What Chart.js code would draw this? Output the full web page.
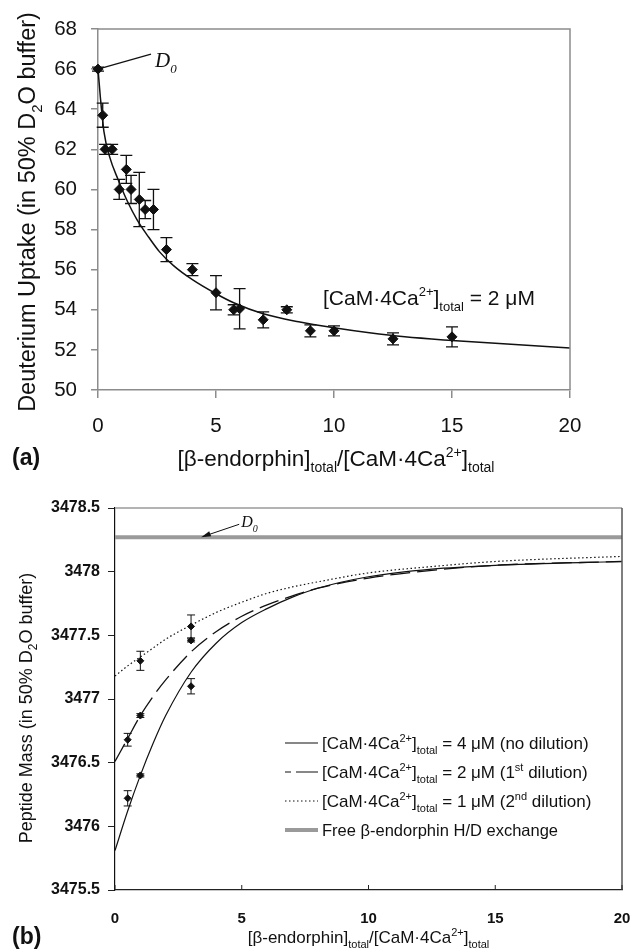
<!DOCTYPE html>
<html>
<head>
<meta charset="utf-8">
<script src="https://cdn.jsdelivr.net/npm/chart.js@4.4.0/dist/chart.umd.min.js"></script>
<style>
  html, body { margin: 0; padding: 0; background: #fff; }
  #wrap { position: relative; width: 631px; height: 950px; }
  canvas { position: absolute; left: 0; }
  #chartA { top: 0; }
  #chartB { top: 475px; }
</style>
</head>
<body>
<div id="wrap">
  <canvas id="chartA" width="631" height="475"></canvas>
  <canvas id="chartB" width="631" height="475"></canvas>
</div>
<script>
// ---- panel (a) data ----
var xA = [0, 0.2, 0.3, 0.6, 0.9, 1.2, 1.4, 1.75, 2, 2.35, 2.9, 4, 5, 5.75, 6, 7, 8, 9, 10, 12.5, 15];
var uptakeA = [66, 63.7, 62, 62, 60, 61, 60, 59.5, 59, 59, 57, 56, 54.85, 54, 54.05, 53.5, 54, 52.95, 52.95, 52.55, 52.65];
var errA = [0.1, 0.6, 0.25, 0.25, 0.5, 0.7, 0.7, 1.35, 0.45, 1.0, 0.6, 0.3, 0.85, 0.25, 1.0, 0.4, 0.15, 0.3, 0.25, 0.3, 0.5];
// fitted curve
var fitXA = [0, 0.1, 0.25, 0.5, 0.85, 1.25, 1.65, 2.1, 2.6, 3.2, 4, 5, 5.75, 7, 8.5, 10, 11.5, 13, 15, 17.5, 20];
var fitYA = [66, 64.6, 62.9, 61.6, 60.5, 59.4, 58.5, 57.7, 56.9, 56.2, 55.5, 54.8, 54.35, 53.8, 53.4, 53.1, 52.85, 52.65, 52.47, 52.28, 52.1];
var xTicksA = [0, 5, 10, 15, 20];
var yTicksA = [50, 52, 54, 56, 58, 60, 62, 64, 66, 68];

// ---- panel (b) data ----
var xB = [0.5, 1, 3];
var mass4 = [3476.22, 3476.40, 3477.10];
var err4 = [0.06, 0.012, 0.06];
var mass2 = [3476.68, 3476.87, 3477.46];
var err2 = [0.05, 0.015, 0.012];
var xB1 = [1, 3];
var mass1 = [3477.30, 3477.57];
var err1 = [0.075, 0.09];
var fitXB = [0, 0.5, 1, 1.5, 2, 3, 4, 5, 6, 7, 8, 10, 12.5, 15, 20];
var fit4 = [3475.81, 3476.12, 3476.40, 3476.65, 3476.87, 3477.21, 3477.44, 3477.60, 3477.71, 3477.80, 3477.87, 3477.96, 3478.02, 3478.05, 3478.08];
var fit2 = [3476.51, 3476.69, 3476.87, 3477.02, 3477.15, 3477.37, 3477.53, 3477.65, 3477.74, 3477.81, 3477.87, 3477.95, 3478.01, 3478.05, 3478.08];
var fit1 = [3477.18, 3477.26, 3477.33, 3477.40, 3477.47, 3477.58, 3477.68, 3477.76, 3477.83, 3477.88, 3477.92, 3477.99, 3478.04, 3478.08, 3478.12];
var freeX = [0, 20];
var freeMass = [3478.27, 3478.27];
var xTicksB = [0, 5, 10, 15, 20];
var yTicksB = [3475.5, 3476, 3476.5, 3477, 3477.5, 3478, 3478.5];

var SANS = "'Liberation Sans', Arial, sans-serif";
var SERIF = "'Liberation Serif', 'Times New Roman', serif";

function pts(xs, ys) {
  return xs.map(function (x, i) { return { x: x, y: ys[i] }; });
}

// draws text made of runs, some of them sub- or superscript
function richText(ctx, runs, x, y, size, opt) {
  opt = opt || {};
  var fam = opt.family || SANS;
  var small = Math.round(size * 0.64);
  function fontFor(r) {
    return (r.italic || opt.italic ? 'italic ' : '') + (opt.bold ? 'bold ' : '') +
      (r.sub || r.sup ? small : size) + 'px ' + fam;
  }
  var w = 0;
  runs.forEach(function (r) { ctx.font = fontFor(r); w += ctx.measureText(r.t).width; });
  ctx.save();
  ctx.translate(x, y);
  if (opt.rotate) ctx.rotate(opt.rotate);
  ctx.fillStyle = opt.color || '#111';
  ctx.textBaseline = 'alphabetic';
  ctx.textAlign = 'left';
  var cx = opt.align === 'center' ? -w / 2 : 0;
  runs.forEach(function (r) {
    ctx.font = fontFor(r);
    var dy = r.sub ? size * 0.28 : (r.sup ? -size * 0.42 : 0);
    ctx.fillText(r.t, cx, dy);
    cx += ctx.measureText(r.t).width;
  });
  ctx.restore();
}

var camRuns = [{ t: '[CaM\u00b74Ca' }, { t: '2+', sup: true }, { t: ']' }, { t: 'total', sub: true }];
var xTitleRuns = [{ t: '[\u03b2-endorphin]' }, { t: 'total', sub: true }, { t: '/' }].concat(camRuns);

// vertical error bars, from dataset.errors
var errorBars = {
  id: 'errorBars',
  afterDatasetsDraw: function (chart) {
    var ctx = chart.ctx, xs = chart.scales.x, ys = chart.scales.y;
    chart.data.datasets.forEach(function (ds) {
      if (!ds.errors) return;
      ctx.save();
      ctx.strokeStyle = '#111';
      ctx.lineWidth = ds.errWidth || 1.3;
      ds.data.forEach(function (p, i) {
        var e = ds.errors[i];
        var px = xs.getPixelForValue(p.x);
        var top = ys.getPixelForValue(p.y + e);
        var bot = ys.getPixelForValue(p.y - e);
        var h = ds.capHalf;
        ctx.beginPath();
        ctx.moveTo(px, top); ctx.lineTo(px, bot);
        ctx.moveTo(px - h, top); ctx.lineTo(px + h, top);
        ctx.moveTo(px - h, bot); ctx.lineTo(px + h, bot);
        ctx.stroke();
      });
      ctx.restore();
    });
  }
};

// ---------------- panel (a) ----------------
var decorA = {
  id: 'decorA',
  afterDraw: function (chart) {
    var ctx = chart.ctx, a = chart.chartArea, xs = chart.scales.x, ys = chart.scales.y;
    ctx.save();
    // top and right edges of the box
    ctx.strokeStyle = '#8c8c8c';
    ctx.lineWidth = 1.5;
    ctx.beginPath();
    ctx.moveTo(a.left, a.top); ctx.lineTo(a.right, a.top); ctx.lineTo(a.right, a.bottom);
    ctx.stroke();
    // D0 pointer
    var px = xs.getPixelForValue(xA[0]), py = ys.getPixelForValue(uptakeA[0]);
    ctx.strokeStyle = '#111';
    ctx.lineWidth = 1.3;
    ctx.beginPath();
    ctx.moveTo(px, py); ctx.lineTo(px + 53, py - 15);
    ctx.stroke();
    ctx.restore();
    richText(ctx, [{ t: 'D' }, { t: '0', sub: true }], px + 57, py - 2, 21, { family: SERIF, italic: true });
    // concentration note
    richText(ctx, camRuns.concat([{ t: ' = 2 \u03bcM' }]), 323, 305, 21);
    // axis titles
    richText(ctx, [{ t: 'Deuterium Uptake (in 50% D' }, { t: '2', sub: true }, { t: 'O buffer)' }],
      35, 212, 23.5, { rotate: -Math.PI / 2, align: 'center' });
    richText(ctx, xTitleRuns, 336, 466, 22.5, { align: 'center' });
    richText(ctx, [{ t: '(a)' }], 12, 465, 23, { bold: true });
  }
};

new Chart(document.getElementById('chartA'), {
  type: 'scatter',
  data: {
    datasets: [
      {
        data: pts(fitXA, fitYA), showLine: true, borderColor: '#111', borderWidth: 1.5,
        pointRadius: 0, cubicInterpolationMode: 'monotone', clip: false
      },
      {
        data: pts(xA, uptakeA), errors: errA, capHalf: 6, showLine: false,
        pointStyle: 'rectRot', pointRadius: 5, backgroundColor: '#111', borderColor: '#111',
        borderWidth: 1, clip: false
      }
    ]
  },
  options: {
    responsive: false,
    animation: false,
    layout: { padding: { left: 0, right: 61, top: 29, bottom: 25 } },
    plugins: { legend: { display: false }, tooltip: { enabled: false } },
    scales: {
      x: {
        type: 'linear', min: 0, max: 20,
        afterBuildTicks: function (s) { s.ticks = xTicksA.map(function (v) { return { value: v }; }); },
        afterFit: function (s) { s.height = 60; s.paddingLeft = 0; s.paddingRight = 0; },
        grid: { drawOnChartArea: false, tickLength: 8, color: '#8c8c8c', lineWidth: 1.5 },
        border: { color: '#8c8c8c', width: 1.5 },
        ticks: { font: { family: SANS, size: 20.5 }, color: '#111', padding: 16, maxRotation: 0 }
      },
      y: {
        type: 'linear', min: 50, max: 68,
        afterBuildTicks: function (s) { s.ticks = yTicksA.map(function (v) { return { value: v }; }); },
        afterFit: function (s) { s.width = 98; s.paddingTop = 0; s.paddingBottom = 0; },
        grid: { drawOnChartArea: false, tickLength: 7, color: '#8c8c8c', lineWidth: 1.5 },
        border: { color: '#8c8c8c', width: 1.5 },
        ticks: { font: { family: SANS, size: 20.5 }, color: '#111', padding: 14 }
      }
    }
  },
  plugins: [errorBars, decorA]
});

// ---------------- panel (b) ----------------
var decorB = {
  id: 'decorB',
  afterDraw: function (chart) {
    var ctx = chart.ctx, a = chart.chartArea, xs = chart.scales.x, ys = chart.scales.y;
    ctx.save();
    // box top (grey) and right edge
    ctx.lineWidth = 1.5;
    ctx.strokeStyle = '#9a9a9a';
    ctx.beginPath(); ctx.moveTo(a.left, a.top); ctx.lineTo(a.right, a.top); ctx.stroke();
    ctx.strokeStyle = '#555';
    ctx.beginPath(); ctx.moveTo(a.right, a.top); ctx.lineTo(a.right, a.bottom); ctx.stroke();
    // inward x ticks
    ctx.strokeStyle = '#222';
    ctx.lineWidth = 1;
    xTicksB.forEach(function (v) {
      var px = xs.getPixelForValue(v);
      ctx.beginPath(); ctx.moveTo(px, a.bottom); ctx.lineTo(px, a.bottom - 5); ctx.stroke();
    });
    // D0 arrow
    var ex = xs.getPixelForValue(3.4), ey = ys.getPixelForValue(freeMass[0]);
    ctx.strokeStyle = '#111';
    ctx.fillStyle = '#111';
    ctx.lineWidth = 1;
    ctx.beginPath(); ctx.moveTo(ex + 38, ey - 13); ctx.lineTo(ex + 4, ey - 1.5); ctx.stroke();
    ctx.beginPath();
    ctx.moveTo(ex, ey); ctx.lineTo(ex + 8, ey - 6); ctx.lineTo(ex + 10, ey - 1); ctx.closePath();
    ctx.fill();
    // legend samples
    var rows = [268, 297, 326, 355];
    var lx0 = 285, lx1 = 318;
    ctx.strokeStyle = '#111';
    ctx.lineWidth = 1.2;
    ctx.beginPath(); ctx.moveTo(lx0, rows[0]); ctx.lineTo(lx1, rows[0]); ctx.stroke();
    ctx.beginPath(); ctx.moveTo(lx0, rows[1]); ctx.lineTo(lx0 + 6, rows[1]);
    ctx.moveTo(lx0 + 11, rows[1]); ctx.lineTo(lx1, rows[1]); ctx.stroke();
    ctx.setLineDash([1.5, 2.5]);
    ctx.beginPath(); ctx.moveTo(lx0, rows[2]); ctx.lineTo(lx1, rows[2]); ctx.stroke();
    ctx.setLineDash([]);
    ctx.strokeStyle = '#9a9a9a';
    ctx.lineWidth = 4;
    ctx.beginPath(); ctx.moveTo(lx0, rows[3]); ctx.lineTo(lx1, rows[3]); ctx.stroke();
    ctx.restore();

    richText(ctx, [{ t: 'D' }, { t: '0', sub: true }], ex + 40, ey - 10, 16, { family: SERIF, italic: true });
    var tx = 322;
    richText(ctx, camRuns.concat([{ t: ' = 4 \u03bcM (no dilution)' }]), tx, rows[0] + 6, 17);
    richText(ctx, camRuns.concat([{ t: ' = 2 \u03bcM (1' }, { t: 'st', sup: true }, { t: ' dilution)' }]), tx, rows[1] + 6, 17);
    richText(ctx, camRuns.concat([{ t: ' = 1 \u03bcM (2' }, { t: 'nd', sup: true }, { t: ' dilution)' }]), tx, rows[2] + 6, 17);
    richText(ctx, [{ t: 'Free \u03b2-endorphin H/D exchange' }], tx, rows[3] + 6, 16.5);
    // axis titles
    richText(ctx, [{ t: 'Peptide Mass (in 50% D' }, { t: '2', sub: true }, { t: 'O buffer)' }],
      32, (a.top + a.bottom) / 2 + 9, 18, { rotate: -Math.PI / 2, align: 'center' });
    richText(ctx, xTitleRuns, (a.left + a.right) / 2, 468, 17, { align: 'center' });
    richText(ctx, [{ t: '(b)' }], 12, 469, 23, { bold: true });
  }
};

new Chart(document.getElementById('chartB'), {
  type: 'scatter',
  data: {
    datasets: [
      {
        data: pts(freeX, freeMass), showLine: true, borderColor: '#9a9a9a', borderWidth: 4,
        pointRadius: 0, clip: false
      },
      {
        data: pts(fitXB, fit4), showLine: true, borderColor: '#111', borderWidth: 1.2,
        pointRadius: 0, cubicInterpolationMode: 'monotone'
      },
      {
        data: pts(fitXB, fit2), showLine: true, borderColor: '#111', borderWidth: 1.3,
        borderDash: [20, 7], pointRadius: 0, cubicInterpolationMode: 'monotone'
      },
      {
        data: pts(fitXB, fit1), showLine: true, borderColor: '#111', borderWidth: 1.2,
        borderDash: [1.5, 2.5], pointRadius: 0, cubicInterpolationMode: 'monotone'
      },
      {
        data: pts(xB, mass4), errors: err4, capHalf: 4, errWidth: 1, showLine: false,
        pointStyle: 'rectRot', pointRadius: 3.5, backgroundColor: '#111', borderColor: '#111'
      },
      {
        data: pts(xB, mass2), errors: err2, capHalf: 4, errWidth: 1, showLine: false,
        pointStyle: 'rectRot', pointRadius: 3.5, backgroundColor: '#111', borderColor: '#111'
      },
      {
        data: pts(xB1, mass1), errors: err1, capHalf: 4, errWidth: 1, showLine: false,
        pointStyle: 'rectRot', pointRadius: 3.5, backgroundColor: '#111', borderColor: '#111'
      }
    ]
  },
  options: {
    responsive: false,
    animation: false,
    layout: { padding: { left: 0, right: 9, top: 33, bottom: 15 } },
    plugins: { legend: { display: false }, tooltip: { enabled: false } },
    scales: {
      x: {
        type: 'linear', min: 0, max: 20,
        afterBuildTicks: function (s) { s.ticks = xTicksB.map(function (v) { return { value: v }; }); },
        afterFit: function (s) { s.height = 45; s.paddingLeft = 0; s.paddingRight = 0; },
        grid: { drawOnChartArea: false, drawTicks: false },
        border: { color: '#222', width: 1.2 },
        ticks: { font: { family: SANS, size: 15, weight: 'bold' }, color: '#111', padding: 20, maxRotation: 0 }
      },
      y: {
        type: 'linear', min: 3475.5, max: 3478.5,
        afterBuildTicks: function (s) { s.ticks = yTicksB.map(function (v) { return { value: v }; }); },
        afterFit: function (s) { s.width = 115; s.paddingTop = 0; s.paddingBottom = 0; },
        grid: { drawOnChartArea: false, tickLength: 7, color: '#222' },
        border: { color: '#111', width: 1.2 },
        ticks: {
          font: { family: SANS, size: 16, weight: 'bold' }, color: '#111', padding: 8,
          callback: function (v) { return String(v); }
        }
      }
    }
  },
  plugins: [errorBars, decorB]
});
</script>
</body>
</html>
